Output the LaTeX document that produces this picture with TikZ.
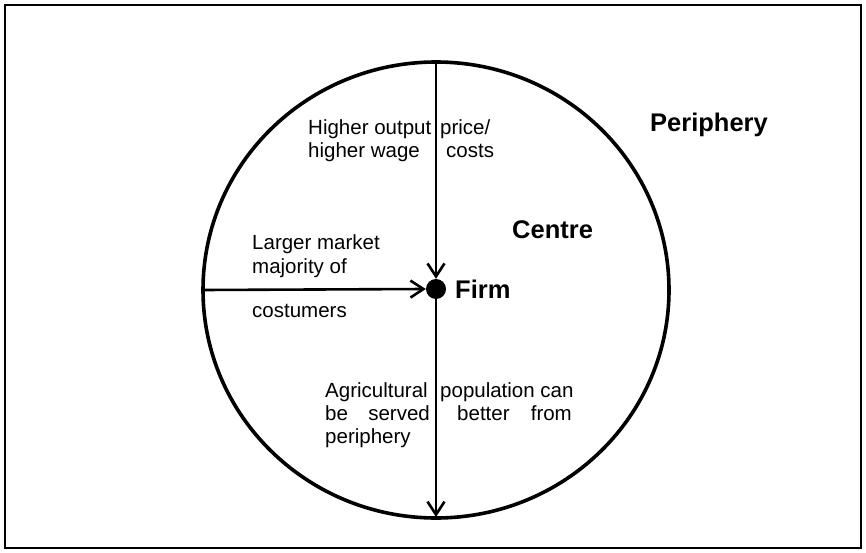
\documentclass[tikz,border=0pt]{standalone}
\usepackage{fontspec}
\setmainfont{Liberation Sans}
\usetikzlibrary{arrows.meta}
\begin{document}
\begin{tikzpicture}[x=1pt,y=-1pt,
  lbl/.style={anchor=base west,inner sep=0pt,font=\fontsize{20.5}{24}\selectfont},
  lblr/.style={anchor=base east,inner sep=0pt,font=\fontsize{20.5}{24}\selectfont},
  bold/.style={anchor=base west,inner sep=0pt,font=\fontsize{25.5}{30}\selectfont\bfseries},
  conn/.style={line width=2.6pt,-{Straight Barb[length=13pt,width=17pt,line width=2.6pt]}}]
\useasboundingbox (0,0) rectangle (866,553);
\draw[line width=1.8pt] (5,5) rectangle (861,548);
\draw[line width=3.6pt] (436,290) ellipse [x radius=233, y radius=228];
\coordinate (top) at (436,62);
\coordinate (left) at (203,290);
\coordinate (bottom) at (436,517);
\node[circle,fill=black,minimum size=20pt,inner sep=0pt] (firm) at (436,289) {};
\draw[conn] (top) -- (firm.north);
\draw[conn] (left) -- (firm.west);
\draw[conn] (firm.south) -- (bottom);
\node[lbl] (t1) at (308,135) {Higher output};
\node[lbl] (t2) at (308,158) {higher wage};
\node[lbl] (t3) at (440,135) {price/};
\node[lbl] (t4) at (446,158) {costs};
\node[bold] (per) at (650,132) {Periphery};
\node[bold] (cen) at (512,238) {Centre};
\node[bold] (firmlbl) at (455,298) {Firm};
\node[lbl] (l1) at (252,249) {Larger market};
\node[lbl] (l2) at (252,273) {majority of};
\node[lbl] (l3) at (252,317) {costumers};
\node[lbl] (a1) at (325,397) {Agricultural};
\node[lbl] (a2) at (440,397) {population can};
\node[lbl] (a3) at (325,420) {be};
\node[lblr] (a4) at (430,420) {served};
\node[lbl] (a5) at (457,420) {better};
\node[lblr] (a6) at (572,420) {from};
\node[lbl] (a7) at (325,443) {periphery};
\end{tikzpicture}
\end{document}
